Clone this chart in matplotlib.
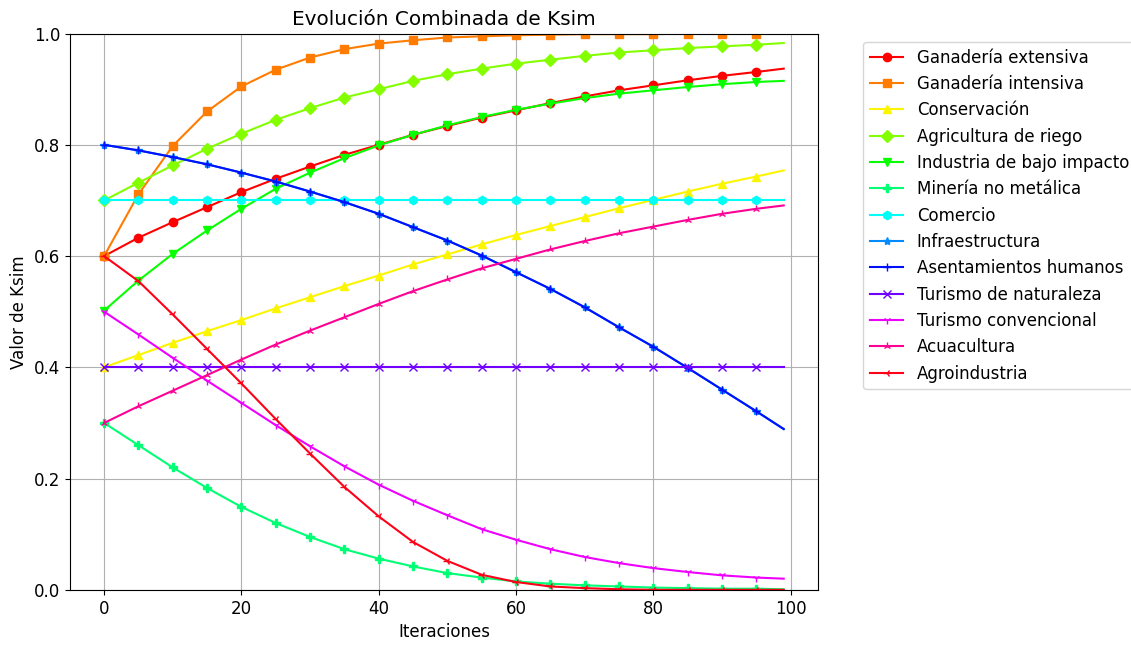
import numpy as np
import matplotlib
matplotlib.use('Agg')
import matplotlib.pyplot as plt

plt.rcParams['font.size'] = 12

# iteraciones muestreadas (cada 5 + la última)
iteraciones = [0, 5, 10, 15, 20, 25, 30, 35, 40, 45, 50, 55, 60, 65, 70, 75, 80, 85, 90, 95, 99]

sectores = ['Ganadería extensiva', 'Ganadería intensiva', 'Conservación', 'Agricultura de riego',
            'Industria de bajo impacto', 'Minería no metálica', 'Comercio', 'Infraestructura',
            'Asentamientos humanos', 'Turismo de naturaleza', 'Turismo convencional', 'Acuacultura',
            'Agroindustria']

ganaderia_extensiva = [0.600, 0.633, 0.661, 0.688, 0.715, 0.739, 0.761, 0.782, 0.800, 0.818, 0.834,
                       0.849, 0.862, 0.875, 0.887, 0.898, 0.907, 0.916, 0.924, 0.931, 0.937]
ganaderia_intensiva = [0.600, 0.711, 0.798, 0.860, 0.905, 0.935, 0.957, 0.972, 0.982, 0.988, 0.993,
                       0.995, 0.997, 0.998, 0.999, 0.999, 0.999, 1.000, 1.000, 1.000, 1.000]
conservacion = [0.400, 0.422, 0.444, 0.465, 0.485, 0.506, 0.526, 0.546, 0.565, 0.585, 0.603,
                0.621, 0.638, 0.654, 0.670, 0.686, 0.701, 0.716, 0.730, 0.743, 0.754]
agricultura_riego = [0.700, 0.732, 0.763, 0.793, 0.820, 0.845, 0.866, 0.885, 0.900, 0.915, 0.927,
                     0.937, 0.946, 0.953, 0.960, 0.966, 0.970, 0.974, 0.977, 0.980, 0.983]
industria_bajo_impacto = [0.502, 0.556, 0.604, 0.646, 0.685, 0.721, 0.750, 0.776, 0.799, 0.818, 0.835,
                          0.850, 0.863, 0.874, 0.884, 0.892, 0.898, 0.904, 0.909, 0.913, 0.915]
mineria_no_metalica = [0.300, 0.260, 0.220, 0.183, 0.149, 0.120, 0.095, 0.073, 0.056, 0.042, 0.030,
                       0.022, 0.015, 0.011, 0.008, 0.006, 0.004, 0.003, 0.002, 0.002, 0.001]
comercio = [0.700] * 21
asentamientos = [0.800, 0.790, 0.778, 0.765, 0.750, 0.734, 0.716, 0.697, 0.676, 0.652, 0.628,
                 0.601, 0.571, 0.541, 0.508, 0.472, 0.437, 0.399, 0.360, 0.321, 0.289]
infraestructura = asentamientos
turismo_naturaleza = [0.400] * 21
turismo_convencional = [0.500, 0.459, 0.417, 0.376, 0.336, 0.296, 0.258, 0.222, 0.189, 0.160, 0.134,
                        0.109, 0.090, 0.073, 0.059, 0.048, 0.039, 0.032, 0.026, 0.022, 0.020]
acuacultura = [0.300, 0.330, 0.358, 0.386, 0.414, 0.441, 0.466, 0.490, 0.514, 0.537, 0.558,
               0.578, 0.595, 0.612, 0.627, 0.641, 0.653, 0.665, 0.676, 0.685, 0.691]
agroindustria = [0.600, 0.555, 0.495, 0.433, 0.371, 0.307, 0.245, 0.185, 0.132, 0.086, 0.052,
                 0.027, 0.014, 0.006, 0.003, 0.001, 0.000, 0.000, 0.000, 0.000, 0.000]

series = [ganaderia_extensiva, ganaderia_intensiva, conservacion, agricultura_riego,
          industria_bajo_impacto, mineria_no_metalica, comercio, infraestructura,
          asentamientos, turismo_naturaleza, turismo_convencional, acuacultura, agroindustria]

marcadores = ['o', 's', '^', 'D', 'v', 'P', 'h', '*', '+', 'x', '1', '2', '3']
colores = plt.cm.hsv(np.linspace(0, 1, len(sectores)))

fig = plt.figure(figsize=(11.31, 6.46), dpi=100)
ax = fig.add_axes([0.062, 0.087, 0.661, 0.861])

for nombre, valores, m, c in zip(sectores, series, marcadores, colores):
    ax.plot(iteraciones, valores, marker=m, color=c, label=nombre,
            markevery=list(range(20)))

ax.set_ylim(0, 1)
ax.set_title('Evolución Combinada de Ksim')
ax.set_xlabel('Iteraciones')
ax.set_ylabel('Valor de Ksim')
ax.grid(True)
ax.legend(bbox_to_anchor=(1.05, 1), loc='upper left')

plt.savefig('out.png', dpi=100)
